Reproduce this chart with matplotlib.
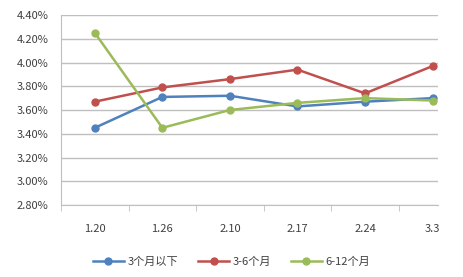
import matplotlib.pyplot as plt
from matplotlib.ticker import FuncFormatter, FixedLocator

plt.rcParams['font.family'] = ['Noto Sans CJK SC', 'DejaVu Sans']

# Datos
fechas = ['1.20', '1.26', '2.10', '2.17', '2.24', '3.3']
series = ['3个月以下', '3-6个月', '6-12个月']
menos_3m = [3.45, 3.71, 3.72, 3.63, 3.67, 3.70]
de_3_a_6m = [3.67, 3.79, 3.86, 3.94, 3.74, 3.97]
de_6_a_12m = [4.25, 3.45, 3.60, 3.66, 3.70, 3.68]

colores = ['#4F81BD', '#C0504D', '#9BBB59']

fig = plt.figure(figsize=(4.63, 2.77), dpi=100)
ax = fig.add_axes([61 / 463, 1 - 205 / 277, 377 / 463, 190 / 277])

x = list(range(len(fechas)))
for valores, nombre, color in zip([menos_3m, de_3_a_6m, de_6_a_12m], series, colores):
    ax.plot(x, valores, color=color, lw=1.8, marker='o', ms=5, label=nombre)

ax.set_ylim(2.80, 4.40)
ax.set_yticks([2.80 + 0.2 * i for i in range(9)])
ax.yaxis.set_major_formatter(FuncFormatter(lambda v, p: f'{v:.2f}%'))
ax.set_xlim(-0.5, 5.08)
ax.set_xticks(x)
ax.set_xticklabels(fechas)
ax.xaxis.set_minor_locator(FixedLocator([i - 0.5 for i in x]))

# Malla y ejes estilo Excel
ax.grid(axis='y', color='#BFBFBF', lw=1)
ax.set_axisbelow(True)
for lado in ['top', 'right']:
    ax.spines[lado].set_visible(False)
ax.spines['left'].set_color('#BFBFBF')
ax.spines['bottom'].set_color('#BFBFBF')
ax.tick_params(axis='y', length=0, labelsize=8, labelcolor='#404040', pad=9)
ax.tick_params(axis='x', which='major', length=0, labelsize=8, labelcolor='#404040', pad=14)
ax.tick_params(axis='x', which='minor', length=4, color='#BFBFBF')

fig.legend(loc='lower center', bbox_to_anchor=(0.5, 0.0), ncol=3, frameon=False,
           fontsize=8, handlelength=2.8, columnspacing=1.8, handletextpad=0.3,
           labelcolor='#404040')

plt.savefig('out.png', dpi=100)
